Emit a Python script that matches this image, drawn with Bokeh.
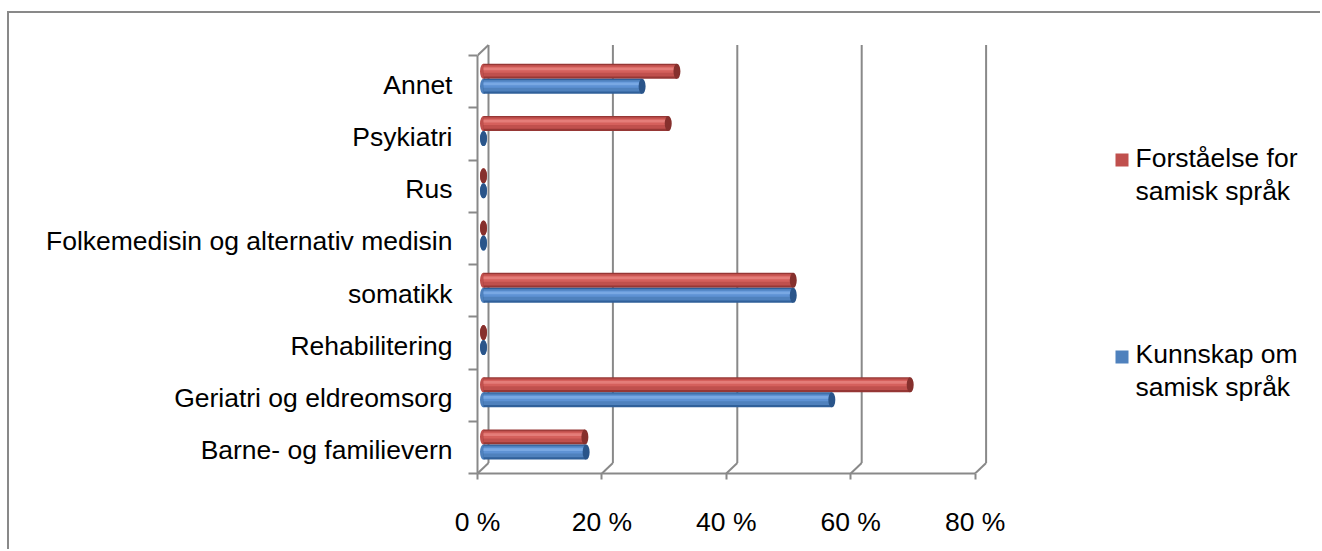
from bokeh.plotting import figure
from bokeh.models import Range1d, LinearAxis, FixedTicker, ColumnDataSource
from bokeh.transform import dodge
from bokeh.core.properties import value
from bokeh.embed import file_html
from bokeh.resources import INLINE

# ---- data -------------------------------------------------------------
categories = [
    "Barne- og familievern",
    "Geriatri og eldreomsorg",
    "Rehabilitering",
    "somatikk",
    "Folkemedisin og alternativ medisin",
    "Rus",
    "Psykiatri",
    "Annet",
]
forstaelse = [16.3, 68.6, 0.0, 49.8, 0.0, 0.0, 29.7, 31.1]   # Forståelse for samisk språk (%)
kunnskap = [16.5, 56.0, 0.0, 49.8, 0.0, 0.0, 0.0, 25.5]      # Kunnskap om samisk språk (%)
series_names = ["Forståelse for\nsamisk språk", "Kunnskap om\nsamisk språk"]
x_ticks = [0, 20, 40, 60, 80]
x_tick_labels = ["0 %", "20 %", "40 %", "60 %", "80 %"]

# ---- layout (page pixels) ---------------------------------------------
W, H = 1322, 551
OX, OY = 9, 13                       # chart area starts after its border
FRAME_L, FRAME_R, FRAME_T, FRAME_B = 477, 1310, 40, 473
PX_X = 6.22          # pixels per percentage point
PX_Y = 52.25         # pixels per category slot
FONT = "Liberation Sans"
FONT_SIZE = "26.5px"
GRAY = "#898989"

n = len(categories)
x_end = (FRAME_R - FRAME_L) / PX_X
y_end = (FRAME_B - FRAME_T) / PX_Y

# depth offsets of the pseudo-3D box (back wall) and of the bars (mid depth)
BACK_DX, BACK_DY = 11 / PX_X, 10.5 / PX_Y
BAR_DX, BAR_DY = 6 / PX_X, 2.8 / PX_Y
BAR_H = 15 / PX_Y
LABEL_SHIFT = 3 / PX_Y

p = figure(
    width=W - OX, height=H - OY,
    output_backend="svg", toolbar_location=None,
    x_range=Range1d(0, x_end), y_range=Range1d(0, y_end),
    x_axis_type=None, y_axis_type=None,
    min_border_left=FRAME_L - OX, min_border_right=W - FRAME_R,
    min_border_top=FRAME_T - OY, min_border_bottom=H - FRAME_B,
)
p.styles = {
    "margin-left": "7px",
    "margin-top": "11px",
    "border-left": f"2px solid {GRAY}",
    "border-top": f"2px solid {GRAY}",
}
p.outline_line_color = None
p.background_fill_color = "white"
p.border_fill_color = "white"

p.extra_x_ranges = {
    "back": Range1d(-BACK_DX, x_end - BACK_DX),
    "bars": Range1d(-BAR_DX, x_end - BAR_DX),
}
p.extra_y_ranges = {
    "back": Range1d(-BACK_DY, y_end - BACK_DY),
    "bars": Range1d(-BAR_DY, y_end - BAR_DY),
}

# back wall gridlines
p.segment(x0=x_ticks, y0=[0] * len(x_ticks), x1=x_ticks, y1=[n] * len(x_ticks),
          x_range_name="back", y_range_name="back", line_color=GRAY, line_width=2)
# floor edges linking the front axis to the back wall
p.segment(x0=x_ticks, y0=[0] * len(x_ticks),
          x1=[t + BACK_DX for t in x_ticks], y1=[BACK_DY] * len(x_ticks),
          line_color=GRAY, line_width=2)
# side wall top edge
p.segment(x0=[0], y0=[n], x1=[BACK_DX], y1=[n + BACK_DY], line_color=GRAY, line_width=2)

# ---- axes -------------------------------------------------------------
xaxis = LinearAxis(
    ticker=FixedTicker(ticks=x_ticks, minor_ticks=[]),
    bounds=(0, 80),
    major_label_overrides={t: lbl for t, lbl in zip(x_ticks, x_tick_labels)},
    axis_line_color=GRAY, axis_line_width=2,
    major_tick_line_color=GRAY, major_tick_line_width=2,
    major_tick_out=6, major_tick_in=0,
    minor_tick_line_color=None,
    major_label_standoff=27,
    major_label_text_font=FONT, major_label_text_font_size=FONT_SIZE,
    major_label_text_color="black",
)
p.add_layout(xaxis, "below")

centers = [i + 0.5 for i in range(n)]
label_pos = [c - LABEL_SHIFT for c in centers]
yaxis = LinearAxis(
    ticker=FixedTicker(ticks=label_pos, minor_ticks=list(range(n + 1))),
    bounds=(0, n),
    major_label_overrides={c: cat for c, cat in zip(label_pos, categories)},
    axis_line_color=GRAY, axis_line_width=2,
    major_tick_line_color=None, major_tick_out=0, major_tick_in=0,
    minor_tick_line_color=GRAY, minor_tick_line_width=2,
    minor_tick_out=9, minor_tick_in=0,
    major_label_standoff=16,
    major_label_text_font=FONT, major_label_text_font_size=FONT_SIZE,
    major_label_text_color="black",
)
p.add_layout(yaxis, "left")

# ---- cylinder bars ----------------------------------------------------
styles = [
    # edge, body, light, highlight, cap
    ("#963735", "#C0504D", "#D5605C", "#E47D79", "#86302D"),
    ("#30609A", "#4F81BD", "#5E92D4", "#79A8E3", "#2A558A"),
]
offsets = [BAR_H / 2, -BAR_H / 2]

for vals, off, (edge, body, light, hi, cap) in zip([forstaelse, kunnskap], offsets, styles):
    src = ColumnDataSource(dict(y=[c + off for c in centers], v=vals, zero=[0] * n))
    kw = dict(source=src, x_range_name="bars", y_range_name="bars")
    # rounded left end
    p.ellipse(x="zero", y="y", width=7, height=BAR_H, width_units="screen",
              fill_color=body, line_color=None, **kw)
    # shaded body
    p.hbar(y="y", left="zero", right="v", height=BAR_H, fill_color=edge, line_color=None, **kw)
    p.hbar(y=dodge("y", 0.04 * BAR_H), left="zero", right="v", height=0.78 * BAR_H,
           fill_color=body, line_color=None, **kw)
    p.hbar(y=dodge("y", 0.12 * BAR_H), left="zero", right="v", height=0.42 * BAR_H,
           fill_color=light, line_color=None, **kw)
    p.hbar(y=dodge("y", 0.16 * BAR_H), left="zero", right="v", height=0.18 * BAR_H,
           fill_color=hi, line_color=None, **kw)
    # right end cap
    p.ellipse(x="v", y="y", width=7, height=BAR_H, width_units="screen",
              fill_color=cap, line_color=None, **kw)

# ---- legend -----------------------------------------------------------
LEG_X = (1121.5 - FRAME_L) / PX_X
LEG_TEXT_X = (1135 - FRAME_L) / PX_X
leg_marker_y = [(FRAME_B - 159.5) / PX_Y, (FRAME_B - 356.5) / PX_Y]
leg_text_y = [(FRAME_B - 142) / PX_Y, (FRAME_B - 338) / PX_Y]
leg_colors = ["#C0504D", "#4F81BD"]

p.rect(x=[LEG_X] * 2, y=leg_marker_y, width=13, height=13,
       width_units="screen", height_units="screen",
       fill_color=leg_colors, line_color=None)
p.text(x=[LEG_TEXT_X] * 2, y=leg_text_y, text=series_names,
       text_font=value(FONT), text_font_size=FONT_SIZE, text_color="black",
       text_baseline="top", text_align="left", text_line_height=1.1)

open("out.html", "w").write(file_html(p, INLINE))
